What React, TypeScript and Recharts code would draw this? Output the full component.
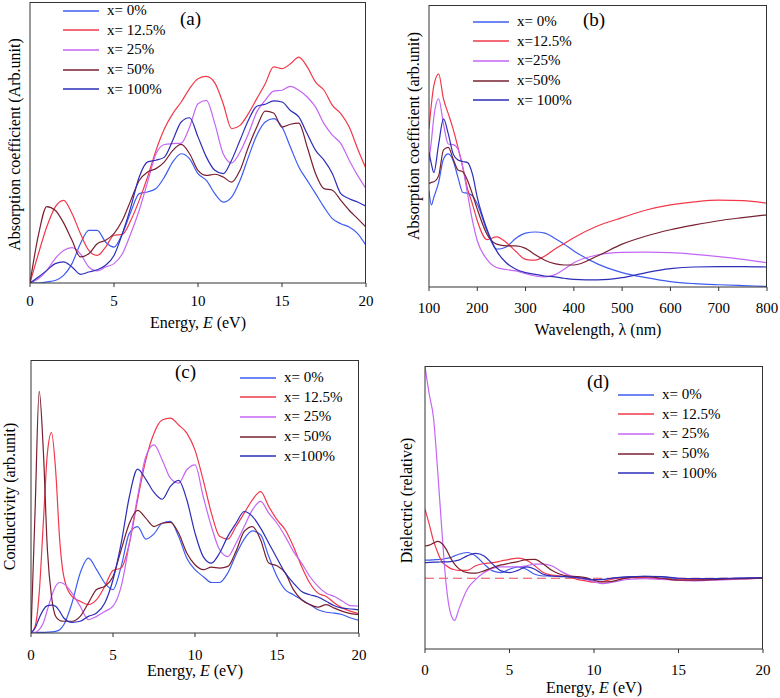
import { Legend, Line, LineChart, ReferenceLine, XAxis, YAxis } from "recharts";

const FONT = "Liberation Serif";
const COLORS = ["#3f5cf2", "#f2384a", "#c466f5", "#782030", "#2d2db8"];
const KEYS = ["p0", "p125", "p25", "p50", "p100"];

// (a) absorption vs energy
const ENERGY_A = [0, 0.5, 1, 1.5, 2, 2.5, 3, 3.5, 4, 4.5, 5, 5.5, 6, 6.5, 7, 7.5, 8, 8.5, 9, 9.5, 10, 10.5, 11, 11.5, 12, 12.5, 13, 13.5, 14, 14.5, 15, 15.5, 16, 16.5, 17, 17.5, 18, 18.5, 19, 19.5, 20];
const A_0 = [0, 0, 0.4, 0.9, 2.7, 6.9, 14, 18.7, 18.7, 14.6, 12.8, 17.6, 25.3, 31.8, 32.4, 33.6, 37.7, 43.1, 46, 44.2, 38.9, 36.5, 31.8, 28.8, 30.6, 36.5, 44.8, 52.6, 57.3, 58.5, 55.5, 48.4, 41.3, 36.5, 31.8, 27, 22.9, 21.1, 19.9, 17.6, 13.4];
const A_125 = [0, 10.4, 20, 27, 29.4, 24.7, 17.6, 11.6, 9.8, 12.8, 17, 17.3, 22.3, 29.4, 37.7, 47.2, 54.9, 60.3, 64.4, 69.2, 72.7, 73.5, 71.2, 63.8, 54.9, 56.1, 60.3, 65.6, 70.9, 76.9, 76.3, 78, 80.4, 76.9, 71.5, 68.6, 63.2, 60.3, 55.5, 47.8, 40.7];
const A_25 = [0, 1.5, 4.5, 8.7, 11.6, 12.6, 10.4, 5.7, 4.3, 5.7, 6.9, 10.4, 17.6, 25.9, 35.9, 46, 49.3, 49.6, 49.8, 55.5, 63.8, 65, 56.7, 46, 42.7, 46.6, 53.1, 60.9, 65, 68.3, 68.6, 70, 68.6, 66.2, 62.6, 56.7, 52.6, 49.6, 43.7, 38.3, 33.6];
const A_50 = [0, 17, 27.2, 25.9, 21.4, 15.2, 9.3, 10.4, 14, 15.2, 17.6, 22.3, 29.4, 36.5, 39.5, 40.7, 43.1, 47.2, 49.3, 46, 40.1, 38.3, 38.7, 37.7, 35.9, 40.1, 48.4, 55.5, 61.2, 60.5, 55.5, 56.5, 56.9, 48.4, 38.9, 33.6, 33, 29.4, 25.9, 22.9, 19.9];
const A_100 = [0, 2.1, 4.5, 6.9, 7.5, 5.7, 3.1, 3.9, 4.7, 6.3, 9.8, 17.6, 27, 37.7, 43.1, 43.7, 44.8, 50.8, 57.3, 58.8, 52, 44.8, 40.1, 38.9, 43.7, 50.8, 57.9, 62.9, 63.6, 64.8, 64.4, 61.4, 59.1, 53.1, 47.2, 43.7, 38.9, 31.8, 30, 28.8, 27.3];

// (b) absorption vs wavelength
const WAVE_B = [100, 105, 110, 120, 130, 140, 150, 160, 170, 180, 190, 200, 220, 240, 260, 280, 300, 320, 340, 360, 380, 400, 450, 500, 550, 600, 650, 700, 750, 800];
const B_0 = [34.1, 29.1, 31.8, 37.1, 45.4, 47.2, 44.8, 38.9, 33.5, 33.2, 32.3, 29.4, 19.9, 13.4, 14.2, 17.3, 19.1, 19.5, 19.1, 17.3, 15.2, 12.8, 8.1, 5.1, 3.3, 1.9, 1.2, 0.8, 0.5, 0.2];
const B_125 = [56, 64.9, 71.4, 75.6, 66.7, 61.4, 56, 49.5, 42.4, 34.7, 29.4, 23.5, 16.8, 17.8, 15.8, 12.6, 9.8, 9.5, 11, 13.4, 15.4, 17.5, 21.7, 24.6, 27.3, 29.1, 30.2, 30.8, 30.6, 29.7];
const B_25 = [44.8, 51.9, 60.2, 66.7, 57.8, 50.7, 50.5, 48.9, 42.4, 32.9, 23.5, 16.4, 9.8, 6.9, 6.2, 5.7, 4.7, 3.9, 3.6, 4.3, 6.3, 8.6, 11.4, 12.3, 12.4, 12.2, 11.6, 10.8, 9.8, 8.6];
const B_50 = [36.7, 37.1, 37.3, 39.5, 48.6, 49.5, 45.4, 41.5, 40.9, 37.7, 32.9, 27.6, 18.7, 15.2, 14.6, 14.6, 13.7, 11.4, 9.5, 8.3, 7.8, 7.8, 11.1, 15.2, 18.1, 20.3, 22, 23.5, 24.6, 25.6];
const B_100 = [47.7, 43.6, 40.6, 50.7, 59.6, 54.3, 47.2, 45, 44.5, 44.1, 40, 31.8, 20.5, 12.8, 8.6, 6.3, 5.1, 4.5, 3.9, 3.6, 3.1, 2.7, 2.5, 3.3, 5.1, 6.5, 7.1, 7.2, 7.2, 7.1];

// (c) conductivity
const ENERGY_C = [0, 0.25, 0.5, 0.75, 1, 1.25, 1.5, 1.75, 2, 2.5, 3, 3.5, 4, 4.5, 5, 5.5, 6, 6.5, 7, 7.5, 8, 8.5, 9, 9.5, 10, 10.5, 11, 11.5, 12, 12.5, 13, 13.5, 14, 14.5, 15, 15.5, 16, 16.5, 17, 17.5, 18, 18.5, 19, 19.5, 20];
const C_0 = [0, 0.1, 0.2, 0.2, 0.3, 0.4, 0.6, 1.2, 3, 11, 22, 27.4, 23.2, 18.3, 15.9, 24.4, 36.6, 39, 34.4, 36.3, 40.2, 40.9, 35.4, 27.4, 23.2, 20.7, 18.5, 18.5, 22, 28.7, 34.4, 37.4, 36, 28, 20.7, 15.9, 14, 12.2, 10.4, 8.5, 7.6, 7.3, 6.7, 5.5, 4.6];
const C_125 = [0, 2.4, 14.6, 40.2, 65.9, 73.4, 59.8, 34.1, 20.7, 13.4, 11.6, 10.4, 12.2, 17.1, 22.9, 23.8, 32.9, 48.8, 63.4, 73.2, 78, 78.7, 76.2, 73.2, 67, 56, 43.9, 35.4, 34.4, 39, 43.9, 48.8, 51.8, 46.3, 41.5, 37.8, 31.7, 24.4, 18.3, 14.6, 13.4, 11, 9.1, 7.9, 7.1];
const C_25 = [0, 0.2, 1.2, 3.7, 8.5, 13.4, 17.1, 18.5, 18, 14.6, 9.8, 4.9, 6.1, 7.9, 9.8, 17.1, 32.9, 50, 64.6, 68.9, 63.4, 56.7, 54.9, 59.8, 61.6, 50, 39, 30.5, 28, 32.9, 39, 45.1, 48.2, 43.9, 40.2, 35.4, 29.9, 25.6, 20.7, 17.1, 14.6, 13.4, 11.6, 10, 9.8];
const C_50 = [0, 45, 88.5, 67, 30.5, 13.4, 6.1, 4.6, 4.3, 4.3, 6.1, 11, 15.9, 17.1, 20.7, 30.5, 40.2, 44.9, 42.1, 39, 40.2, 40.5, 36.6, 29.3, 25, 23.2, 24.1, 23.8, 24.4, 29.9, 37.2, 39, 34.1, 25.6, 24.6, 22, 15.9, 12.2, 10.4, 9.5, 10.4, 9.1, 7.9, 7.1, 6.7];
const C_100 = [0, 1.8, 5.5, 8.5, 10, 10.2, 9.8, 7.9, 5.5, 3.9, 4.3, 6.1, 7.3, 11, 19.5, 32.9, 50, 60, 56.3, 51.5, 49, 53.7, 55.9, 48.8, 36.6, 28, 25.6, 29.3, 35.4, 40.2, 44.5, 42.7, 38.4, 32.9, 27.4, 22, 18.3, 15.2, 14, 13.2, 11.6, 10, 9.1, 8.8, 8.5];

// (d) dielectric, relative to the dashed baseline
const ENERGY_D = [0, 0.25, 0.5, 0.75, 1, 1.25, 1.5, 1.75, 2, 2.5, 3, 3.5, 4, 4.5, 5, 5.5, 6, 6.5, 7, 7.5, 8, 8.5, 9, 9.5, 10, 10.5, 11, 11.5, 12, 13, 14, 15, 16, 17, 18, 19, 20];
const D_0 = [6.4, 6.4, 6.5, 6.6, 6.7, 7, 7.3, 7.9, 8.5, 9.1, 7.9, 5, 2.6, 2, 3.2, 4, 3.2, 1.4, 0.8, 0.8, 0.7, 0.6, 0.2, -0.2, -0.5, -0.5, -0.1, 0.2, 0.5, 0.7, 0.5, -0.2, -0.5, -0.4, -0.1, 0, 0.1];
const D_125 = [24.4, 19.1, 13.3, 9.1, 5.9, 4.5, 3.5, 3, 2.8, 2.8, 4.4, 5.2, 5.5, 6.1, 6.7, 7.1, 6.4, 4.4, 2, 1.1, 0.8, 0.6, -0.4, -0.9, -1.4, -1.2, -0.4, 0, 0.2, 0.2, -0.2, -0.5, -0.5, -0.4, -0.2, -0.1, 0];
const D_25 = [74.8, 65.1, 56.8, 38, 16.7, -2.1, -12.1, -14.9, -11, -3.9, -0.4, 2, 3.5, 4, 4, 4, 4.4, 5, 5, 4.4, 2.6, 1.1, 0.2, -0.4, -1.2, -1.9, -1.5, -0.9, -0.4, -0.1, -0.4, -0.7, -0.9, -0.7, -0.5, -0.2, 0];
const D_50 = [11.4, 11.7, 12.4, 13, 12.3, 10.3, 7.3, 5, 3.4, 2, 1.8, 2.6, 3.8, 4.7, 5.3, 5.9, 6.6, 6.7, 5, 2.8, 1.4, 0.8, 0.6, 0.2, -0.7, -1.3, -1.2, -0.5, 0.2, 0.6, 0, -0.7, -0.7, -0.5, -0.2, -0.1, 0];
const D_100 = [5.5, 5.6, 5.7, 5.7, 5.8, 5.8, 5.9, 6.1, 6.4, 7.9, 8.8, 7.9, 5, 2.6, 2, 2.8, 4, 3.2, 1.4, 0.8, 0.6, 0.5, 0.2, -0.2, -0.5, -0.4, 0, 0.3, 0.5, 0.7, 0.6, 0, -0.1, -0.1, 0, 0.1, 0.2];

const NAMES_A = ["x= 0%", "x= 12.5%", "x= 25%", "x= 50%", "x= 100%"];
const NAMES_B = ["x= 0%", "x=12.5%", "x=25%", "x=50%", "x= 100%"];
const NAMES_C = ["x= 0%", "x= 12.5%", "x= 25%", "x= 50%", "x=100%"];

const ENERGY_TICKS = [0, 5, 10, 15, 20];
const WAVE_TICKS = [100, 200, 300, 400, 500, 600, 700, 800];

function toRows(xs: number[], cols: number[][]) {
  return xs.map((x, i) => {
    const row: Record<string, number> = { x };
    cols.forEach((c, j) => {
      row[KEYS[j]] = c[i];
    });
    return row;
  });
}

function Panel(p: any) {
  const plotLeft = p.margin.left + p.yAxisWidth;
  const plotTop = p.margin.top;
  const plotW = p.width - plotLeft - p.margin.right;
  const plotH = p.height - p.margin.top - p.margin.bottom - p.xAxisHeight;

  const xTitle = (lp: any) => {
    const vb = lp?.viewBox;
    if (!vb) return null;
    return (
      <text x={vb.x + vb.width / 2} y={vb.y + p.xTitleBase} textAnchor="middle" style={{ fontSize: 16, fontFamily: FONT }} fill="#000">
        {p.xTitle === "energy" ? (
          <>
            Energy, <tspan fontStyle="italic">E</tspan> (eV)
          </>
        ) : (
          "Wavelength, λ (nm)"
        )}
      </text>
    );
  };

  const yTitle = (lp: any) => {
    const vb = lp?.viewBox;
    if (!vb) return null;
    const cx = vb.x + p.yTitleX;
    const cy = vb.y + vb.height / 2 + p.yTitleDy;
    return (
      <text x={cx} y={cy} transform={`rotate(-90 ${cx} ${cy})`} textAnchor="middle" dominantBaseline="central" style={{ fontSize: 16, fontFamily: FONT }} fill="#000">
        {p.yTitle}
      </text>
    );
  };

  const legend = () => (
    <div style={{ fontFamily: FONT, fontSize: 15, color: "#000" }}>
      {p.names.map((n: string, i: number) => (
        <div key={n} style={{ display: "flex", alignItems: "center", height: 19.6 }}>
          <svg width={36} height={4} style={{ marginRight: 8 }}>
            <line x1={0} y1={2} x2={36} y2={2} stroke={COLORS[i]} strokeWidth={1.3} />
          </svg>
          <span style={{ whiteSpace: "pre" }}>{n}</span>
        </div>
      ))}
    </div>
  );

  return (
    <div style={{ position: "absolute", left: p.left, top: p.top, width: p.width, height: p.height }}>
      <LineChart width={p.width} height={p.height} data={p.rows} margin={p.margin}>
        <XAxis dataKey="x" type="number" domain={p.xDomain} ticks={p.xTicks} interval={0} allowDataOverflow tickSize={4} tickMargin={p.tickMargin} height={p.xAxisHeight} stroke="#333" tick={{ fill: "#000", fontSize: 15, style: { fontFamily: FONT } }} label={xTitle} />
        <YAxis type="number" domain={p.yDomain} allowDataOverflow tick={false} tickLine={false} width={p.yAxisWidth} stroke="#333" label={yTitle} />
        {p.zeroLine && <ReferenceLine y={0} stroke="#e8485a" strokeDasharray="9 5" strokeWidth={1.2} />}
        {KEYS.map((k, i) => (
          <Line key={k} type="monotone" dataKey={k} name={p.names[i]} stroke={COLORS[i]} strokeWidth={1.2} dot={false} activeDot={false} isAnimationActive={false} />
        ))}
        <Legend layout="vertical" align="center" verticalAlign="middle" wrapperStyle={{ left: p.legendLeft, top: p.legendTop, width: "auto" }} content={legend} />
      </LineChart>
      {/* top and right edges of the plot frame */}
      <div
        style={{
          position: "absolute",
          left: plotLeft,
          top: plotTop,
          width: plotW,
          height: plotH,
          boxSizing: "border-box",
          borderTop: "1px solid #333",
          borderRight: "1px solid #333",
          pointerEvents: "none",
        }}
      />
      <div style={{ position: "absolute", left: p.letterLeft, top: p.letterTop, fontFamily: FONT, fontSize: 19, lineHeight: "19px", color: "#000" }}>
        {p.letter}
      </div>
    </div>
  );
}

export default function App() {
  return (
    <div style={{ position: "absolute", left: 0, top: 0, width: 780, height: 698, background: "#fff", overflow: "hidden", fontFamily: FONT }}>
      <Panel left={0} top={0} width={390} height={340} margin={{ top: 2, right: 24, bottom: 10, left: 0 }} rows={toRows(ENERGY_A, [A_0, A_125, A_25, A_50, A_100])} names={NAMES_A} xDomain={[0, 20]} xTicks={ENERGY_TICKS} yDomain={[0, 100]} xAxisHeight={47} yAxisWidth={30} tickMargin={8} xTitle="energy" xTitleBase={45} yTitle="Absorption coefficient (Arb.unit)" yTitleX={14} yTitleDy={2} legendLeft={63} legendTop={1} letter="(a)" letterLeft={180} letterTop={9} />
      <Panel left={390} top={0} width={390} height={345} margin={{ top: 5, right: 13, bottom: 7, left: 0 }} rows={toRows(WAVE_B, [B_0, B_125, B_25, B_50, B_100])} names={NAMES_B} xDomain={[100, 800]} xTicks={WAVE_TICKS} yDomain={[0, 100]} xAxisHeight={51} yAxisWidth={39} tickMargin={11} xTitle="wave" xTitleBase={48} yTitle="Absorption coefficient (arb.unit)" yTitleX={23} yTitleDy={-10} legendLeft={83} legendTop={12} letter="(b)" letterLeft={193} letterTop={10} />
      <Panel left={0} top={345} width={390} height={353} margin={{ top: 15, right: 31, bottom: 19, left: 0 }} rows={toRows(ENERGY_C, [C_0, C_125, C_25, C_50, C_100])} names={NAMES_C} xDomain={[0, 20]} xTicks={ENERGY_TICKS} yDomain={[0, 100]} xAxisHeight={46} yAxisWidth={31} tickMargin={12} xTitle="energy" xTitleBase={43} yTitle="Conductivity (arb.unit)" yTitleX={9} yTitleDy={0} legendLeft={240} legendTop={23} letter="(c)" letterLeft={175} letterTop={17} />
      <Panel left={390} top={345} width={390} height={353} margin={{ top: 21, right: 17, bottom: 4, left: 0 }} rows={toRows(ENERGY_D, [D_0, D_125, D_25, D_50, D_100])} names={NAMES_A} xDomain={[0, 20]} xTicks={ENERGY_TICKS} yDomain={[-25, 75]} xAxisHeight={45} yAxisWidth={35} tickMargin={11} xTitle="energy" xTitleBase={44} yTitle="Dielectric (relative)" yTitleX={16} yTitleDy={-7} legendLeft={228} legendTop={40} letter="(d)" letterLeft={197} letterTop={27} zeroLine />
    </div>
  );
}
